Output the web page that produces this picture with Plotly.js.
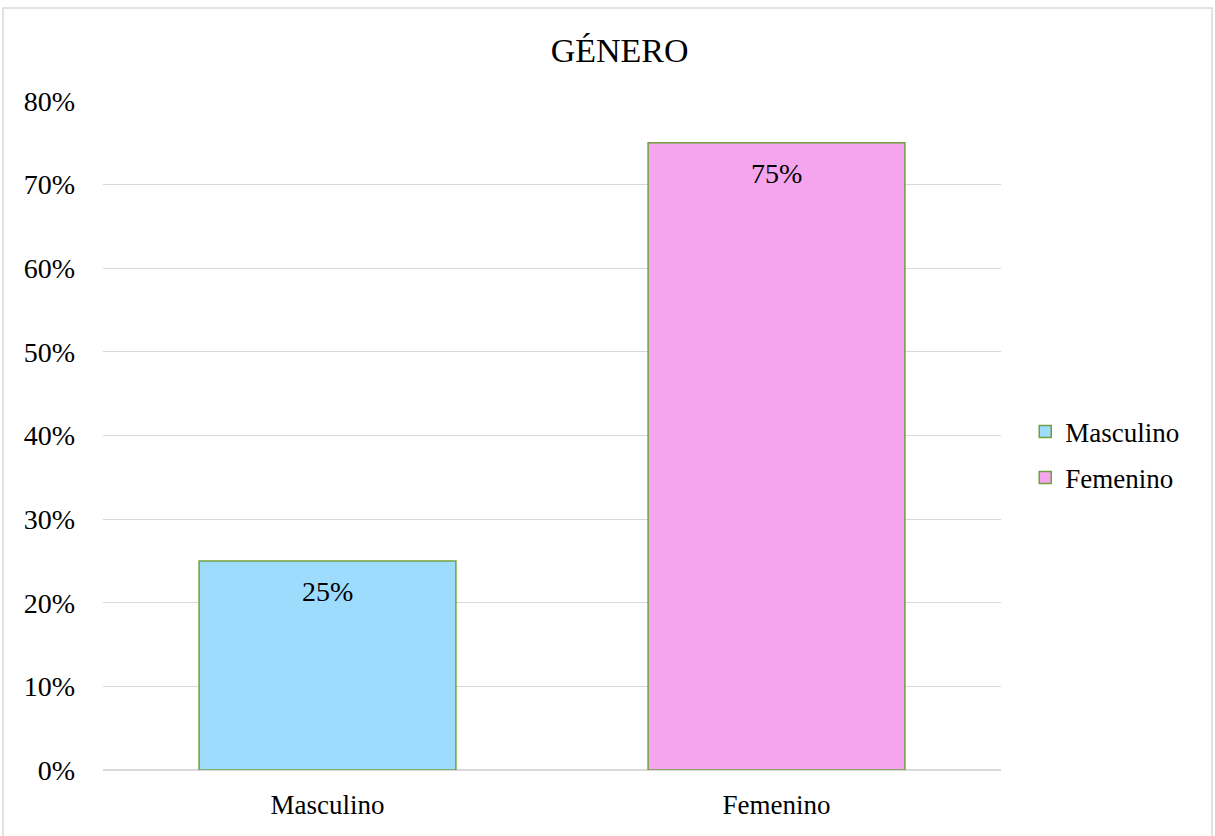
<!DOCTYPE html>
<html>
<head>
<meta charset="utf-8">
<script src="https://cdn.plot.ly/plotly-3.0.1.min.js"></script>
<style>html,body{margin:0;padding:0;background:#fff;}#chart{width:1215px;height:836px;}</style>
</head>
<body>
<div id="chart"></div>
<script>
const categories = ["Masculino", "Femenino"];
const values = [0.25, 0.75];
const labels = ["25%", "75%"];
const colors = ["#9DDCFD", "#F5A5EE"];
const yTicks = [0, 0.1, 0.2, 0.3, 0.4, 0.5, 0.6, 0.7, 0.8];
const yTickText = ["0%", "10%", "20%", "30%", "40%", "50%", "60%", "70%", "80%"];

const font = "'Liberation Serif', 'Times New Roman', serif";
const traces = categories.map((c, i) => ({
  type: "bar",
  name: c,
  legendgroup: "g" + i,
  x: [c],
  y: [values[i]],
  width: 0.572,
  marker: {color: colors[i], line: {color: "#70A03E", width: 1.5}},
  hoverinfo: "x+y"
}));

const annotations = categories.map((c, i) => ({
  x: c, y: values[i], xref: "x", yref: "y",
  text: labels[i], showarrow: false,
  yanchor: "middle", yshift: -31,
  font: {family: font, size: 28, color: "#000"}
}));

const layout = {
  width: 1215, height: 836,
  margin: {l: 103, r: 214, t: 101, b: 66},
  paper_bgcolor: "#fff", plot_bgcolor: "#fff",
  font: {family: font, size: 27, color: "#000"},
  title: {text: "GÉNERO", font: {family: font, size: 34, color: "#000"}, x: 0.51, xref: "container", y: 0.94, yref: "container", yanchor: "middle"},
  barmode: "overlay",
  showlegend: true,
  legend: {x: 1.027, y: 0.471, yanchor: "middle", xanchor: "left", font: {family: font, size: 27}, tracegroupgap: 8, itemwidth: 30},
  annotations: annotations,
  xaxis: {type: "category", categoryorder: "array", categoryarray: categories, showgrid: false, showline: false, ticks: "", ticklabelstandoff: 16, tickfont: {family: font, size: 27}, fixedrange: true},
  yaxis: {range: [0, 0.8], tickvals: yTicks, ticktext: yTickText, showgrid: true, gridcolor: "#D9D9D9", gridwidth: 1, zeroline: true, zerolinecolor: "#D9D9D9", zerolinewidth: 2, showline: false, ticks: "", ticklabelstandoff: 27, tickfont: {family: font, size: 28}, fixedrange: true},
  shapes: [{type: "rect", xref: "paper", yref: "paper", x0: (3 - 103) / 898, x1: (1212 - 103) / 898, y0: (770 - 840) / 669, y1: (770 - 8) / 669, line: {color: "#D9D9D9", width: 1.5}, fillcolor: "rgba(0,0,0,0)", layer: "below"}]
};

Plotly.newPlot("chart", traces, layout, {displayModeBar: false, staticPlot: true});
</script>
</body>
</html>
